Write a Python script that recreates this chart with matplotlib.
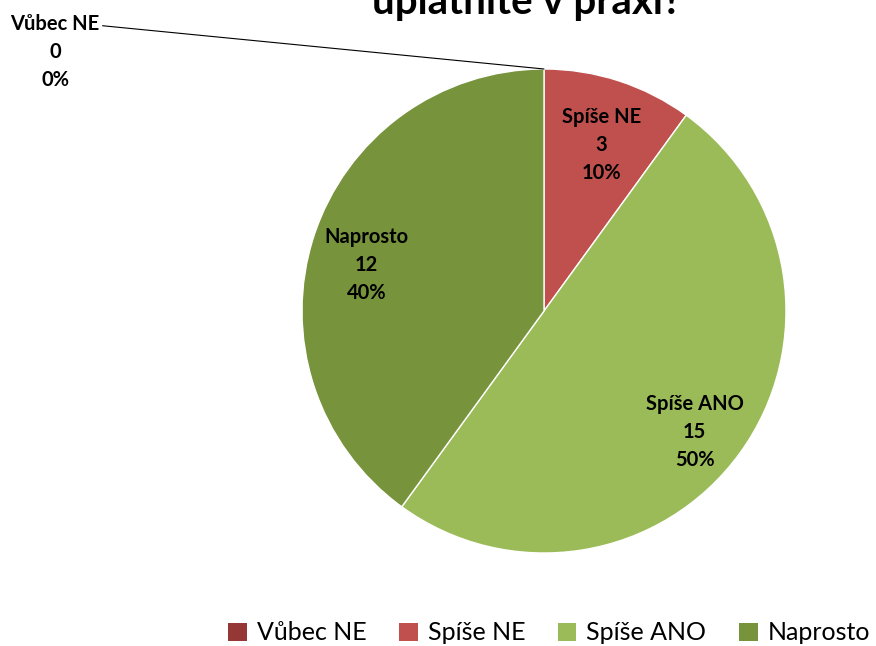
import numpy as np
import matplotlib.pyplot as plt
from matplotlib.patches import Patch

plt.rcParams['font.family'] = ['Lato', 'DejaVu Sans']

TITLE = 'uplatníte v praxi?'
categories = ['Vůbec NE', 'Spíše NE', 'Spíše ANO', 'Naprosto']
values = [0, 3, 15, 12]
colors = ['#953735', '#C0504D', '#9BBB59', '#77933C']

W, H = 876, 646
fig = plt.figure(figsize=(W / 100, H / 100), dpi=100)

# pie centre (544, 311) px, radius 242 px
cx, cy, r = 544, 311, 242
ax = fig.add_axes([(cx - r) / W, (H - cy - r) / H, 2 * r / W, 2 * r / H])

total = sum(values)
wedges, _ = ax.pie(values, colors=colors, startangle=90, counterclock=False,
                   wedgeprops=dict(edgecolor='white', linewidth=1))
ax.set_xlim(-1, 1)
ax.set_ylim(-1, 1)

# data labels
start = 90.0
for name, v in zip(categories, values):
    sweep = 360.0 * v / total
    mid = np.deg2rad(start - sweep / 2)
    txt = f'{name}\n{v}\n{round(100 * v / total)}%'
    if v > 0:
        ax.annotate(txt, xy=(0.77 * np.cos(mid), 0.77 * np.sin(mid)),
                    xytext=(0, -8), textcoords='offset points',
                    ha='center', va='center', fontsize=14.5, fontweight='bold',
                    linespacing=1.5)
    else:
        ax.annotate(txt, xy=(np.cos(mid), np.sin(mid)), xytext=(-2.02, 1.07),
                    ha='center', va='center', fontsize=14.5, fontweight='bold',
                    linespacing=1.5, annotation_clip=False,
                    arrowprops=dict(arrowstyle='-', color='black', lw=0.8,
                                    relpos=(1.0, 0.85), shrinkA=0, shrinkB=0))
    start -= sweep

fig.text(527 / W, 1 - 14 / H, TITLE, ha='center', va='baseline',
         fontsize=29, fontweight='bold')

handles = [Patch(facecolor=c) for c in colors]
fig.legend(handles, categories, ncol=4, loc='center',
           bbox_to_anchor=(549 / W, 1 - 633 / H), frameon=False, fontsize=18,
           handlelength=0.75, handleheight=0.75, handletextpad=0.4,
           columnspacing=1.3)

fig.savefig('out.png', dpi=100)
